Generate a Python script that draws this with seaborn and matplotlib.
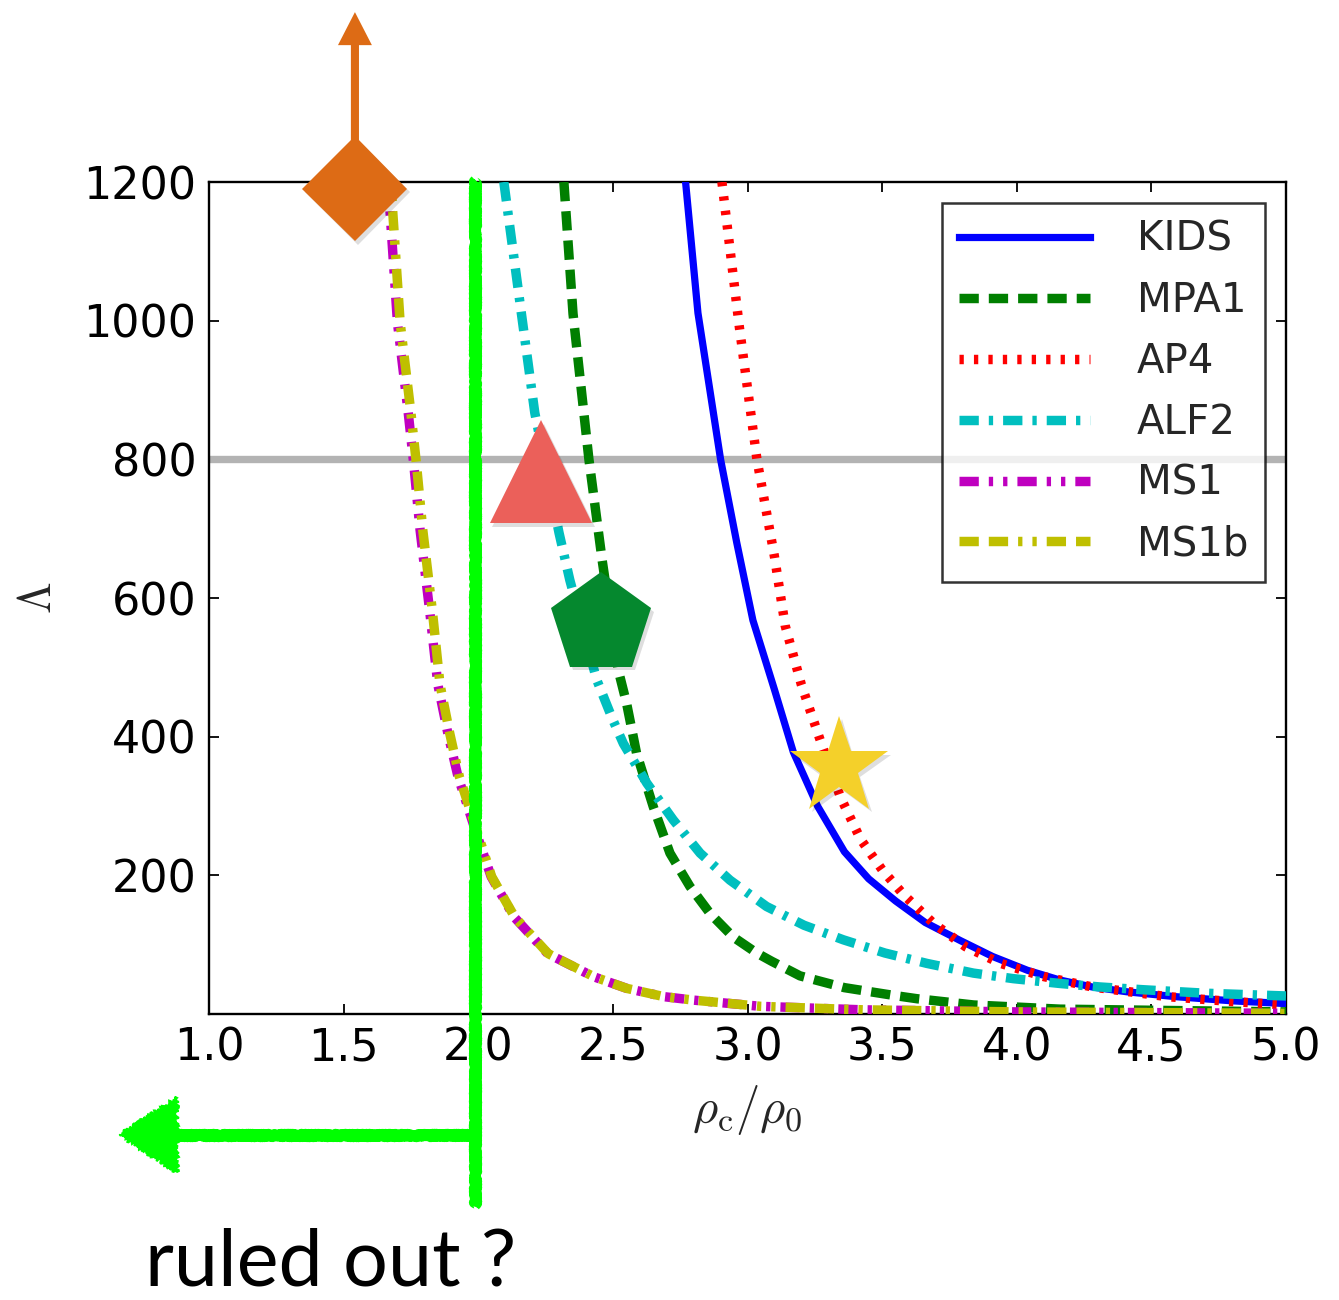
import numpy as np
import pandas as pd
import matplotlib
matplotlib.use("Agg")
import matplotlib.pyplot as plt
import matplotlib.patheffects as pe
import seaborn as sns

# ---- tidal deformability vs central density for several EOS ----
eos_names = ["KIDS", "MPA1", "AP4", "ALF2", "MS1", "MS1b"]

kids_x = [2.77, 2.816, 2.90, 2.96, 3.02, 3.10, 3.17, 3.26, 3.36, 3.45, 3.55, 3.66, 3.79,
          3.91, 4.04, 4.16, 4.28, 4.41, 4.59, 4.80, 5.00]
kids_y = [1200, 1011, 800, 680, 568, 468, 378, 300, 234, 195, 163, 132, 106,
          83, 63, 49, 39, 32, 25, 19, 15]

mpa1_x = [2.318, 2.352, 2.411, 2.46, 2.52, 2.551, 2.588, 2.65, 2.712, 2.786, 2.861, 2.947,
          3.034, 3.09, 3.195, 3.36, 3.54, 3.63, 3.84, 4.16, 4.58, 5.00]
mpa1_y = [1200, 1010, 800, 655, 496, 448, 376, 299, 232, 184, 145, 111,
          88, 76, 55, 38, 27, 22, 13, 7, 5, 3]

ap4_x = [2.905, 2.97, 3.035, 3.10, 3.14, 3.20, 3.27, 3.345, 3.42, 3.50, 3.58, 3.69, 3.81,
         3.94, 4.10, 4.28, 4.56, 4.80, 5.00]
ap4_y = [1200, 990, 800, 660, 560, 475, 395, 313, 252, 208, 172, 131, 97,
         73, 54, 39, 25, 18, 13]

alf2_x = [2.095, 2.16, 2.21, 2.30, 2.34, 2.44, 2.50, 2.539, 2.626, 2.724, 2.824, 2.935, 3.071,
          3.21, 3.356, 3.51, 3.666, 3.839, 3.987, 4.161, 4.309, 4.47, 4.70, 5.00]
alf2_y = [1200, 1011, 867, 694, 626, 482, 424, 390, 333, 280, 232, 193, 155,
          128, 107, 88, 73, 59, 51, 44, 39, 35, 30, 26]

ms1_x = [1.665, 1.70, 1.74, 1.76, 1.784, 1.82, 1.85, 1.887, 1.925, 1.985, 2.048, 2.133,
         2.258, 2.304, 2.427, 2.551, 2.69, 2.80, 3.05, 3.43, 4.0, 4.5, 5.0]
ms1_y = [1200, 997, 867, 795, 698, 580, 475, 405, 342, 270, 198, 140,
         87, 78, 54, 37, 25, 20, 11, 6, 3, 2, 1]

ms1b_x = [1.675, 1.71, 1.75, 1.77, 1.794, 1.83, 1.858, 1.894, 1.93, 1.99, 2.05, 2.135,
          2.26, 2.305, 2.428, 2.551, 2.69, 2.80, 3.05, 3.43, 4.0, 4.5, 5.0]
ms1b_y = [1200, 997, 867, 795, 698, 580, 475, 405, 342, 270, 198, 140,
          87, 78, 54, 37, 25, 20, 11, 6, 3, 2, 1]

# observational markers (x = rho_c/rho_0, y = Lambda)
marker_x = [1.542, 2.233, 2.456, 3.340]
marker_y = [1190, 782, 562, 356]

lambda_bound = 800
rho_cut = 1.988

x_ticks = [1.0, 1.5, 2.0, 2.5, 3.0, 3.5, 4.0, 4.5, 5.0]
y_ticks = [200, 400, 600, 800, 1000, 1200]

series = {
    "KIDS": (kids_x, kids_y),
    "MPA1": (mpa1_x, mpa1_y),
    "AP4": (ap4_x, ap4_y),
    "ALF2": (alf2_x, alf2_y),
    "MS1": (ms1_x, ms1_y),
    "MS1b": (ms1b_x, ms1b_y),
}
frames = [pd.DataFrame({"rho": xs, "Lambda": ys, "eos": name}) for name, (xs, ys) in series.items()]
df = pd.concat(frames, ignore_index=True)

colors = {"KIDS": "#0000ff", "MPA1": "#007f00", "AP4": "#ff0000",
          "ALF2": "#00bfbf", "MS1": "#bf00bf", "MS1b": "#bfbf00"}
dash_map = {
    "KIDS": None,
    "MPA1": (13.9, 7.2),
    "AP4": (3.1, 7.3),
    "ALF2": (13.9, 7.2, 3.1, 7.2),
    "MS1": (13.9, 7.2, 3.1, 7.2, 3.1, 7.2),
    "MS1b": (13.9, 7.2, 13.9, 7.2, 3.1, 7.2, 3.1, 7.2),
}
widths = {"KIDS": 5.2, "MPA1": 6.8, "AP4": 6.8, "ALF2": 6.8, "MS1": 6.8, "MS1b": 6.8}

sns.set_theme(style="ticks")
plt.rcParams["font.family"] = ["DejaVu Sans"]
plt.rcParams["mathtext.fontset"] = "cm"
plt.rcParams["lines.scale_dashes"] = False
plt.rcParams["lines.dash_capstyle"] = "butt"
plt.rcParams["lines.solid_capstyle"] = "projecting"

fig = plt.figure(figsize=(13.39, 13.0), dpi=100)
ax = fig.add_axes([209 / 1339, (1300 - 1014) / 1300, (1286 - 209) / 1339, (1014 - 182) / 1300])

# horizontal bound
ax.axhline(lambda_bound, color="#b3b3b3", lw=5.3, zorder=1)

handles = []
for name in eos_names:
    sub = df[df["eos"] == name]
    sns.lineplot(data=sub, x="rho", y="Lambda", ax=ax, color=colors[name],
                 lw=widths[name], estimator=None, legend=False, zorder=3)
    line = ax.lines[-1]
    if dash_map[name] is not None:
        line.set_dashes(dash_map[name])
    handles.append(line)

ax.set_xlim(1.0, 5.0)
ax.set_ylim(0, 1200)
ax.set_xticks(x_ticks)
ax.set_yticks(y_ticks)
ax.set_xticklabels([f"{v:.1f}" for v in x_ticks])
ax.tick_params(direction="in", top=True, right=True, length=7, width=1.3,
               labelsize=32, pad=9, colors="black")
for sp in ax.spines.values():
    sp.set_visible(True)
    sp.set_linewidth(1.7)
    sp.set_color("black")

ax.set_xlabel(r"$\rho_{\rm c}/\rho_0$", fontsize=35, labelpad=10)
ax.set_ylabel(r"$\Lambda$", fontsize=33, labelpad=16)

leg = ax.legend(handles, eos_names, loc="upper right", fontsize=29,
                handlelength=3.25, handletextpad=1.17, labelspacing=0.52,
                borderpad=0.42, borderaxespad=0.52, frameon=True, fancybox=False)
leg.get_frame().set_edgecolor("black")
leg.get_frame().set_linewidth(1.8)
leg.set_zorder(6)

# "ruled out" marker: hand-drawn vertical line with a leftward arrow
green = "#00ff00"
for lw, sk in [(8.0, (1.2, 3, 2)), (2.5, (3.2, 2, 4)), (2.5, (2.8, 3, 3)), (1.5, (4.0, 2, 5))]:
    ln, = ax.plot([rho_cut, rho_cut], [1203, -276], color=green, lw=lw,
                  solid_capstyle="butt", clip_on=False, zorder=5)
    ln.set_sketch_params(*sk)
    ln2, = ax.plot([rho_cut, 0.85], [-174.5, -174.5], color=green, lw=lw,
                   solid_capstyle="butt", clip_on=False, zorder=5)
    ln2.set_sketch_params(*sk)
head = ax.arrow(0.89, -174.5, -0.221, 0, width=0.0001, head_width=107,
                head_length=0.212, length_includes_head=True, color=green,
                lw=1.5, clip_on=False, zorder=5)
head.set_sketch_params(2.0, 3, 4)

# orange upward arrow from the diamond
orange = "#dd6b15"
ax.arrow(marker_x[0], marker_y[0], 0, 1445 - marker_y[0], width=0.030,
         head_width=0.126, head_length=47.6, length_includes_head=True,
         color=orange, lw=0, clip_on=False, zorder=6)

shadow = [pe.SimplePatchShadow(offset=(2, -2.5), shadow_rgbFace="black", alpha=0.13), pe.Normal()]
marker_styles = [("D", 53.4, orange), ("^", 74, "#eb605a"), ("p", 75.6, "#05882e"), ("*", 74, "#f4d02a")]
for (mk, ms, col), mx, my in zip(marker_styles, marker_x, marker_y):
    m, = ax.plot([mx], [my], marker=mk, ms=ms, color=col, mew=0, ls="none",
                 clip_on=False, zorder=7)
    m.set_path_effects(shadow)

fig.text(145 / 1339, 1 - 1286 / 1300, "ruled out ?", fontsize=57, family=["Lato", "DejaVu Sans"],
         ha="left", va="baseline", color="black")

fig.savefig("out.png", dpi=100)
